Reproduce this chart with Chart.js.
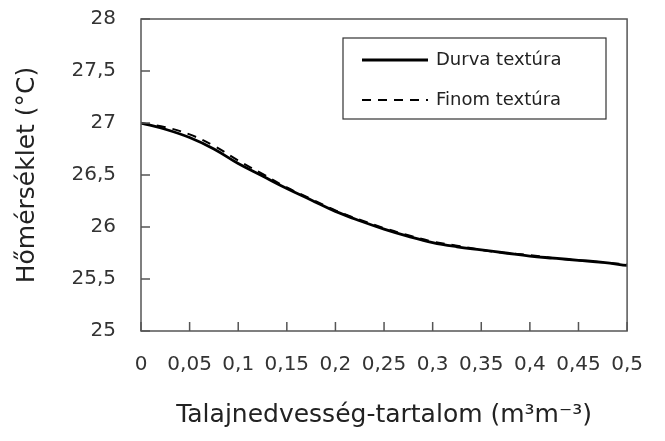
<!DOCTYPE html>
<html>
<head>
<meta charset="utf-8">
<script src="https://cdn.jsdelivr.net/npm/chart.js@4/dist/chart.umd.min.js"></script>
<style>
    body { margin: 0; background: #fff; }
    canvas { display: block; }
</style>
</head>
<body>
<canvas id="grafikon" width="665" height="441"></canvas>
<script>
// adatok
const nedvesseg = [0, 0.025, 0.05, 0.075, 0.1, 0.125, 0.15, 0.175, 0.2, 0.225, 0.25,
    0.275, 0.3, 0.325, 0.35, 0.375, 0.4, 0.425, 0.45, 0.475, 0.5];
const durva = [27.00, 26.94, 26.86, 26.75, 26.61, 26.49, 26.37, 26.26, 26.15, 26.06, 25.98,
    25.91, 25.85, 25.81, 25.78, 25.75, 25.72, 25.70, 25.68, 25.66, 25.63];
const finom = [27.00, 26.96, 26.89, 26.78, 26.64, 26.51, 26.38, 26.27, 26.16, 26.07, 25.99,
    25.92, 25.86, 25.82, 25.78, 25.75, 25.73, 25.70, 25.68, 25.66, 25.64];

const xTickErtekek = [0, 0.05, 0.1, 0.15, 0.2, 0.25, 0.3, 0.35, 0.4, 0.45, 0.5];
const xTickCimkek = ['0', '0,05', '0,1', '0,15', '0,2', '0,25', '0,3', '0,35', '0,4', '0,45', '0,5'];
const yTickErtekek = [25, 25.5, 26, 26.5, 27, 27.5, 28];
const yTickCimkek = ['25', '25,5', '26', '26,5', '27', '27,5', '28'];

const betu = 'DejaVu Sans';
const keretSzin = '#555555';

function pontok(ys) {
    return nedvesseg.map((x, i) => ({ x: x, y: ys[i] }));
}

// keret, befelé mutató osztások és jelmagyarázat
const keretPlugin = {
    id: 'keret',
    afterDraw(chart) {
        const ctx = chart.ctx;
        const a = chart.chartArea;
        const xs = chart.scales.x;
        const ys = chart.scales.y;
        ctx.save();
        ctx.strokeStyle = keretSzin;
        ctx.lineWidth = 1.5;
        ctx.strokeRect(a.left, a.top, a.right - a.left, a.bottom - a.top);
        ctx.beginPath();
        xTickErtekek.forEach(v => {
            const px = xs.getPixelForValue(v);
            ctx.moveTo(px, a.bottom);
            ctx.lineTo(px, a.bottom - 9);
        });
        yTickErtekek.forEach(v => {
            const py = ys.getPixelForValue(v);
            ctx.moveTo(a.left, py);
            ctx.lineTo(a.left + 9, py);
        });
        ctx.stroke();

        // jelmagyarázat
        const bx = 343, by = 38, bw = 263, bh = 81;
        ctx.strokeStyle = '#333333';
        ctx.lineWidth = 1.2;
        ctx.strokeRect(bx, by, bw, bh);
        ctx.font = '18px "' + betu + '"';
        ctx.fillStyle = '#222222';
        ctx.textBaseline = 'middle';
        chart.data.datasets.forEach((ds, i) => {
            const sy = by + 22 + i * 40;
            ctx.beginPath();
            ctx.strokeStyle = ds.borderColor;
            ctx.lineWidth = ds.borderWidth;
            ctx.setLineDash(ds.borderDash || []);
            ctx.moveTo(362, sy);
            ctx.lineTo(428, sy);
            ctx.stroke();
            ctx.setLineDash([]);
            ctx.fillText(ds.label, 436, sy);
        });
        ctx.restore();
    }
};

const ctx = document.getElementById('grafikon').getContext('2d');
new Chart(ctx, {
    type: 'line',
    data: {
        datasets: [{
            label: 'Durva textúra',
            data: pontok(durva),
            borderColor: '#000000',
            borderWidth: 2.8,
            pointRadius: 0,
            tension: 0.4,
            fill: false
        }, {
            label: 'Finom textúra',
            data: pontok(finom),
            borderColor: '#000000',
            borderWidth: 2,
            borderDash: [9, 7],
            pointRadius: 0,
            tension: 0.4,
            fill: false
        }]
    },
    options: {
        responsive: false,
        animation: false,
        layout: {
            padding: { top: 19, right: 37, bottom: 0, left: 0 }
        },
        plugins: {
            legend: { display: false },
            tooltip: { enabled: false }
        },
        scales: {
            x: {
                type: 'linear',
                min: 0,
                max: 0.5,
                afterBuildTicks: scale => {
                    scale.ticks = xTickErtekek.map(v => ({ value: v }));
                },
                afterFit: scale => { scale.height = 110; },
                grid: { display: false, drawTicks: false },
                border: { display: false },
                ticks: {
                    autoSkip: false,
                    maxRotation: 0,
                    padding: 22,
                    color: '#333333',
                    font: { family: betu, size: 20 },
                    callback: (v, i) => xTickCimkek[i]
                },
                title: {
                    display: true,
                    text: 'Talajnedvesség-tartalom (m³m⁻³)',
                    color: '#222222',
                    font: { family: betu, size: 25 },
                    padding: { top: 0, bottom: 11 }
                }
            },
            y: {
                min: 25,
                max: 28,
                afterBuildTicks: scale => {
                    scale.ticks = yTickErtekek.map(v => ({ value: v }));
                },
                afterFit: scale => {
                    scale.width = 141;
                    scale.paddingTop = 0;
                    scale.paddingBottom = 0;
                },
                grid: { display: false, drawTicks: false },
                border: { display: false },
                ticks: {
                    padding: 25,
                    color: '#333333',
                    font: { family: betu, size: 20 },
                    callback: (v, i) => yTickCimkek[i]
                },
                title: {
                    display: true,
                    text: 'Hőmérséklet (°C)',
                    color: '#222222',
                    font: { family: betu, size: 25 },
                    padding: { top: 12, bottom: 0 }
                }
            }
        }
    },
    plugins: [keretPlugin]
});
</script>
</body>
</html>
